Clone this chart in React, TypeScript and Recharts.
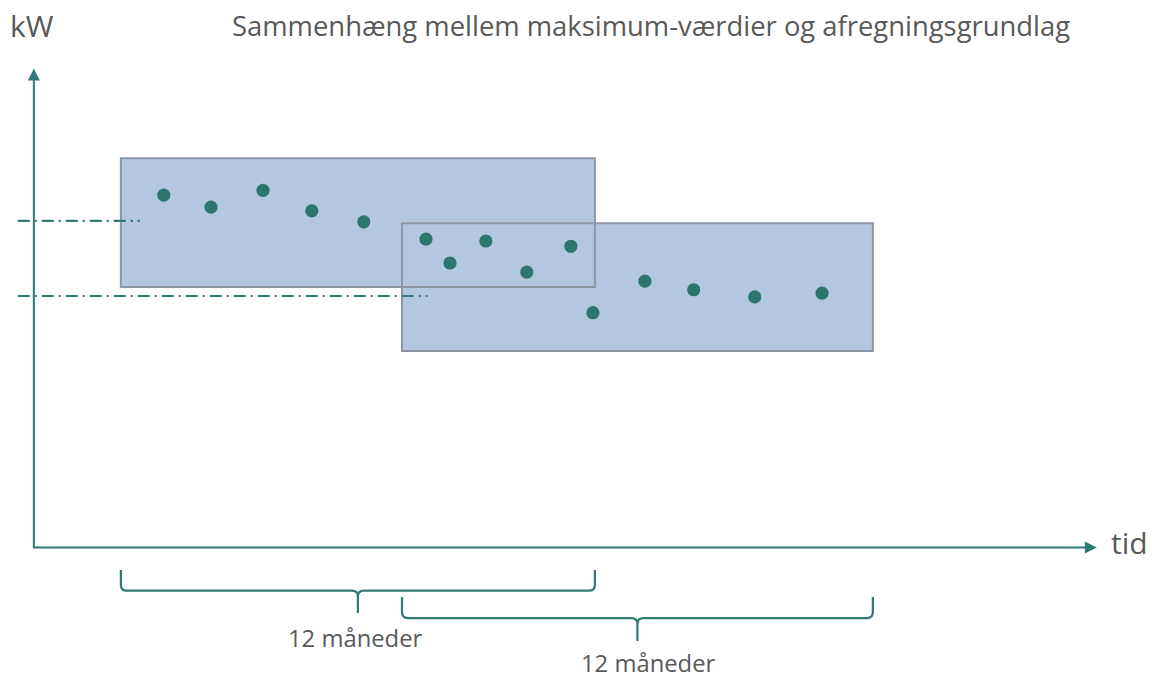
import React from "react";
import { ComposedChart, XAxis, YAxis, Scatter, ReferenceArea, ReferenceLine } from "recharts";

// x in months, y in kW
const monthsX = [3.3, 4.5, 5.82, 7.06, 8.38, 9.96, 10.57, 11.48, 12.52, 13.64, 14.2, 15.52, 16.76, 18.31, 20.02];
const maxKW = [73.7, 71.2, 74.7, 70.4, 68.1, 64.5, 59.5, 64.1, 57.6, 63.0, 49.1, 55.7, 53.9, 52.4, 53.2];

const windowStart = [2.21, 9.35];
const windowEnd = [14.25, 21.31];
const windowTop = [81.4, 67.8];
const windowBottom = [54.5, 41.1];

const refLevel = [68.3, 52.6];
const refFrom = [-0.41, -0.41];
const refTo = [2.69, 10.0];

const braceTop = [-4.7, -10.35];
const braceTip = [-13.7, -19.55];
const braceLabel = ["12 måneder", "12 måneder"];

const X_DOMAIN: [number, number] = [-0.86, 28.4];
const Y_DOMAIN: [number, number] = [-27.5, 114.5];
const X_AXIS_END = 27.0;
const Y_AXIS_END = 100.2;

const TEAL = "#2F7A74";
const DOT = "#2D7670";
const FILL = "#B4C7E0";
const BORDER = "#8C96A4";
const TEXT = "#595959";
const FONT = "'Open Sans', sans-serif";

const points = monthsX.map((x, i) => ({ x, y: maxKW[i] }));

const ArrowLine = (dir: "up" | "right") => (p: any) => {
  const { x1, y1, x2, y2 } = p;
  const s = 6;
  const h = 12;
  if (dir === "up") {
    const tx = x1;
    const ty = Math.min(y1, y2);
    const by = Math.max(y1, y2);
    return (
      <g>
        <line x1={tx} y1={by} x2={tx} y2={ty + h - 1} stroke={TEAL} strokeWidth={2} />
        <polygon points={`${tx},${ty} ${tx - s},${ty + h} ${tx + s},${ty + h}`} fill={TEAL} />
      </g>
    );
  }
  const ty = y1;
  const lx = Math.min(x1, x2);
  const rx = Math.max(x1, x2);
  return (
    <g>
      <line x1={lx - 1} y1={ty} x2={rx - h + 1} y2={ty} stroke={TEAL} strokeWidth={2} />
      <polygon points={`${rx},${ty} ${rx - h},${ty - s} ${rx - h},${ty + s}`} fill={TEAL} />
    </g>
  );
};

const BraceShape = (p: any) => {
  const { x, y, width, height } = p;
  const x1 = x;
  const x2 = x + width;
  const top = y;
  const tip = y + height;
  const bar = top + height * 0.48;
  const mid = (x1 + x2) / 2;
  const r = 6;
  const d =
    `M${x1},${top} L${x1},${bar - r} Q${x1},${bar} ${x1 + r},${bar} L${mid - r},${bar} Q${mid},${bar} ${mid},${bar + r} L${mid},${tip} ` +
    `M${x2},${top} L${x2},${bar - r} Q${x2},${bar} ${x2 - r},${bar} L${mid + r},${bar} Q${mid},${bar} ${mid},${bar + r}`;
  return <path d={d} fill="none" stroke={TEAL} strokeWidth={2.2} strokeLinejoin="round" />;
};

const Dot = (p: any) => <circle cx={p.cx} cy={p.cy} r={6.6} fill={DOT} />;

export default function App() {
  return (
    <div style={{ position: "absolute", left: 0, top: 0, width: 1152, height: 679, background: "#fff" }}>
      <ComposedChart width={1152} height={679} margin={{ top: 0, right: 0, bottom: 0, left: 0 }}>
        <XAxis type="number" dataKey="x" domain={X_DOMAIN} hide allowDataOverflow />
        <YAxis type="number" dataKey="y" domain={Y_DOMAIN} hide allowDataOverflow />
        {windowStart.map((s, i) => (
          <ReferenceArea
            key={`f${i}`}
            x1={s}
            x2={windowEnd[i]}
            y1={windowBottom[i]}
            y2={windowTop[i]}
            fill={FILL}
            fillOpacity={1}
            stroke="none"
            ifOverflow="visible"
          />
        ))}
        {windowStart.map((s, i) => (
          <ReferenceArea
            key={`b${i}`}
            x1={s}
            x2={windowEnd[i]}
            y1={windowBottom[i]}
            y2={windowTop[i]}
            fill="none"
            fillOpacity={0}
            stroke={BORDER}
            strokeWidth={2}
            ifOverflow="visible"
          />
        ))}
        {refLevel.map((lv, i) => (
          <ReferenceLine
            key={`r${i}`}
            segment={[
              { x: refFrom[i], y: lv },
              { x: refTo[i], y: lv },
            ]}
            stroke={TEAL}
            strokeWidth={2.2}
            strokeDasharray="12 5 2 5"
            ifOverflow="visible"
          />
        ))}
        <ReferenceLine
          segment={[
            { x: 0, y: 0 },
            { x: 0, y: Y_AXIS_END },
          ]}
          shape={ArrowLine("up")}
          ifOverflow="visible"
        />
        <ReferenceLine
          segment={[
            { x: 0, y: 0 },
            { x: X_AXIS_END, y: 0 },
          ]}
          shape={ArrowLine("right")}
          ifOverflow="visible"
        />
        {windowStart.map((s, i) => (
          <ReferenceArea
            key={`br${i}`}
            x1={s}
            x2={windowEnd[i]}
            y1={braceTip[i]}
            y2={braceTop[i]}
            shape={BraceShape}
            ifOverflow="visible"
          />
        ))}
        <Scatter data={points} dataKey="y" shape={Dot} isAnimationActive={false} />
      </ComposedChart>
      <div style={{ position: "absolute", left: 10, top: 6, fontFamily: FONT, fontSize: 30, color: TEXT, lineHeight: "40px", whiteSpace: "nowrap" }}>
        kW
      </div>
      <div style={{ position: "absolute", left: 232, top: 6, fontFamily: FONT, fontSize: 27.4, color: TEXT, lineHeight: "40px", whiteSpace: "nowrap" }}>
        Sammenhæng mellem maksimum-værdier og afregningsgrundlag
      </div>
      <div style={{ position: "absolute", left: 1111, top: 523, fontFamily: FONT, fontSize: 30, color: TEXT, lineHeight: "40px", whiteSpace: "nowrap" }}>
        tid
      </div>
      <div style={{ position: "absolute", left: 288, top: 627, fontFamily: FONT, fontSize: 23.8, color: TEXT, lineHeight: "22px", whiteSpace: "nowrap" }}>
        {braceLabel[0]}
      </div>
      <div style={{ position: "absolute", left: 581, top: 652, fontFamily: FONT, fontSize: 23.8, color: TEXT, lineHeight: "22px", whiteSpace: "nowrap" }}>
        {braceLabel[1]}
      </div>
    </div>
  );
}
